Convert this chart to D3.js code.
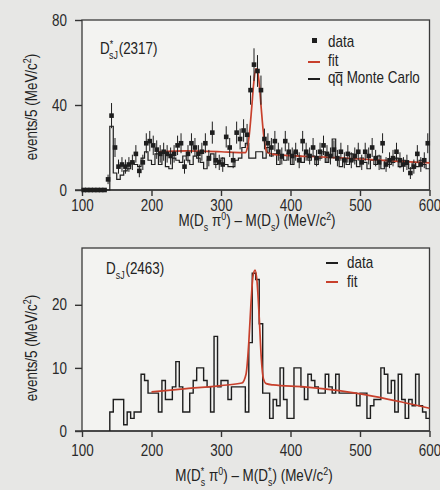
<!DOCTYPE html>
<html>
<head>
<meta charset="utf-8">
<script src="https://cdn.jsdelivr.net/npm/d3@7"></script>
<style>
    body { margin: 0; background: #e7e7e5; }
    svg { display: block; font-family: "Liberation Sans", Arial, sans-serif; }
    .tick text { font-size: 16px; fill: #2a2a2a; }
    .tick line { stroke: #333; stroke-width: 1.4; }
</style>
</head>
<body>
<div id="chart"></div>
<script>
// top panel: D*sJ(2317), 5 MeV bins from 100 to 600
const topBinStarts = d3.range(100, 600, 5);
const topData = [
    0, 0, 0, 0, 0, 0, 0,
    5, 35, 20,
    11, 12, 11, 12, 13, 17, 9, 13, 22, 23,
    21, 19, 17, 18, 17, 16, 17, 21, 22, 11,
    17, 22, 20, 17, 18, 22, 15, 27, 14, 13,
    12, 25, 20, 14, 27, 24, 28, 26, 47, 59,
    56, 47, 24, 22, 20, 23, 18, 16, 23, 18,
    16, 18, 14, 23, 18, 16, 20, 15, 18, 21,
    17, 16, 19, 15, 18, 14, 17, 14, 16, 18,
    13, 18, 16, 20, 15, 13, 22, 12, 14, 15,
    18, 14, 12, 13, 8, 11, 17, 12, 14, 22
];
const topMonteCarlo = [
    0, 0, 0, 0, 0, 0, 0, 0,
    30, 8, 5, 7, 9, 10, 13, 12, 11, 15,
    18, 14, 12, 17, 12, 18, 11, 10, 15, 14,
    13, 16, 14, 12, 16, 15, 13, 10, 14, 17,
    12, 14, 15, 12, 11, 11, 14, 15, 20, 22,
    15, 15, 18, 18, 15, 20, 16, 17, 12, 15,
    14, 17, 12, 18, 16, 13, 17, 14, 16, 12,
    15, 18, 13, 16, 24, 14, 11, 15, 12, 17,
    14, 11, 15, 13, 10, 14, 12, 16, 10, 14,
    12, 13, 15, 11, 14, 12, 10, 13, 11, 14,
    12, 10
];
const topFitX = [210, 250, 300, 330, 335, 338, 341, 344, 347, 350, 352, 355, 358, 361, 364, 367, 375, 400, 450, 500, 550, 600];
const topFitY = [18, 18.4, 18, 17.6, 17.6, 20, 27, 38, 50, 57, 57, 50, 38, 27, 20, 17.6, 16.8, 16.2, 15.5, 14.6, 13.6, 12.8];

// bottom panel: DsJ(2463), 5 MeV bins from 140 to 600
const bottomBinStarts = d3.range(140, 600, 5);
const bottomData = [
    3, 5, 5, 5, 1, 3, 2, 3, 3, 9,
    8, 6, 6, 6, 3, 8, 5, 5, 7, 11,
    7, 3, 3, 6, 8, 10, 10, 8, 7, 3,
    15, 7, 8, 8, 5, 7, 7, 7, 7, 3,
    14, 25, 24, 17, 6, 6, 2, 5, 4, 10,
    5, 2, 2, 10, 10, 7, 5, 9, 8, 7,
    6, 6, 9, 7, 6, 9, 6, 6, 6, 6,
    6, 4, 6, 6, 2, 4, 5, 5, 10, 9,
    6, 8, 3, 9, 5, 2, 5, 4, 9, 4,
    3, 2
];
const bottomFitX = [200, 250, 300, 330, 336, 340, 343, 346, 349, 352, 355, 358, 361, 365, 375, 420, 470, 520, 560, 600];
const bottomFitY = [6.2, 6.7, 7.2, 7.6, 9, 14, 20, 24.5, 25.5, 23.5, 18, 11.5, 8.3, 7.5, 7.3, 7.0, 6.4, 5.5, 4.6, 3.6];

const xTicks = [100, 200, 300, 400, 500, 600];
const topYTicks = [0, 40, 80];
const bottomYTicks = [0, 10, 20];

const width = 440;
const height = 490;
const red = '#c8402c';
const ink = '#1e1e1e';
const squeeze = 0.84; // the original uses a condensed face

const svg = d3.select('#chart')
    .append('svg')
        .attr('width', width)
        .attr('height', height);

const x = d3.scaleLinear()
    .domain([100, 600])
    .range([82, 429.5]);

const yTop = d3.scaleLinear()
    .domain([0, 80])
    .range([190, 20]);

const yBottom = d3.scaleLinear()
    .domain([0, 29])
    .range([431, 248]);

// text with sub/superscripts, parts are [text, level, dx]
function richText(parent, px, py, parts, size, anchor) {
    const t = parent.append('g')
        .attr('transform', `translate(${px},${py}) scale(${squeeze},1)`)
        .append('text')
            .attr('font-size', size)
            .attr('fill', '#222')
            .attr('text-anchor', anchor || 'start');
    let off = 0;
    parts.forEach(p => {
        const lvl = p[1] || 0;
        const target = lvl === 1 ? -0.38 * size : lvl === -1 ? 0.3 * size : 0;
        t.append('tspan')
            .attr('dy', target - off)
            .attr('dx', p[2] || 0)
            .attr('font-size', lvl ? size * 0.66 : size)
            .text(p[0]);
        off = target;
    });
    return t;
}

function drawFrame(y, yTicks, pad) {
    const [y0, y1] = y.range();
    svg.append('rect')
        .attr('x', x(100))
        .attr('y', y1)
        .attr('width', x(600) - x(100))
        .attr('height', y0 - y1)
        .attr('fill', '#f3f3f1')
        .attr('stroke', '#3a3a3a')
        .attr('stroke-width', 1.3);

    svg.append('g')
        .attr('transform', `translate(0,${y0})`)
        .call(d3.axisBottom(x).tickValues(xTicks).tickSize(6).tickPadding(pad))
        .call(g => g.select('.domain').remove())
        .call(g => g.selectAll('text').attr('transform', `scale(${squeeze},1)`));

    svg.append('g')
        .attr('transform', `translate(${x(100)},0)`)
        .call(d3.axisLeft(y).tickValues(yTicks).tickSize(7))
        .call(g => g.select('.domain').remove())
        .call(g => g.selectAll('text')
            .attr('x', -15 / squeeze)
            .attr('transform', `scale(${squeeze},1)`));

    // bottom axis line runs a bit left of the frame
    svg.append('line')
        .attr('x1', x(100) - 7)
        .attr('x2', x(600))
        .attr('y1', y0)
        .attr('y2', y0)
        .attr('stroke', '#3a3a3a')
        .attr('stroke-width', 1.6);
}

drawFrame(yTop, topYTicks, 4);
drawFrame(yBottom, bottomYTicks, 8);

// ---- top panel ----
const stepTop = d3.line()
    .x(d => x(d[0]))
    .y(d => yTop(d[1]))
    .curve(d3.curveStepAfter);

const mcPoints = topBinStarts.map((b, i) => [b, topMonteCarlo[i]]);
mcPoints.push([600, topMonteCarlo[topMonteCarlo.length - 1]]);

svg.append('path')
    .attr('d', stepTop(mcPoints))
    .attr('fill', 'none')
    .attr('stroke', ink)
    .attr('stroke-width', 1.2);

const fitTop = d3.line()
    .x((d, i) => x(topFitX[i]))
    .y(d => yTop(d))
    .curve(d3.curveMonotoneX);

svg.append('path')
    .attr('d', fitTop(topFitY))
    .attr('fill', 'none')
    .attr('stroke', red)
    .attr('stroke-width', 1.7);

const points = svg.append('g');
points.selectAll('line')
    .data(topData)
    .join('line')
        .attr('x1', (d, i) => x(topBinStarts[i] + 2.5))
        .attr('x2', (d, i) => x(topBinStarts[i] + 2.5))
        .attr('y1', d => yTop(d + Math.sqrt(d)))
        .attr('y2', d => yTop(Math.max(0, d - Math.sqrt(d))))
        .attr('stroke', ink)
        .attr('stroke-width', 1);

points.selectAll('rect')
    .data(topData)
    .join('rect')
        .attr('x', (d, i) => x(topBinStarts[i] + 2.5) - 2.3)
        .attr('y', d => yTop(d) - 2.3)
        .attr('width', 4.6)
        .attr('height', 4.6)
        .attr('fill', ink);

// legend
svg.append('rect').attr('x', 312).attr('y', 38).attr('width', 5).attr('height', 5).attr('fill', ink);
richText(svg, 328, 47, [['data']], 16);
svg.append('line').attr('x1', 308).attr('x2', 320).attr('y1', 62).attr('y2', 62).attr('stroke', red).attr('stroke-width', 2);
richText(svg, 328, 66, [['fit']], 16);
svg.append('line').attr('x1', 308).attr('x2', 320).attr('y1', 79).attr('y2', 79).attr('stroke', ink).attr('stroke-width', 2);
richText(svg, 328, 83, [['q'], ['q\u0305'], [' Monte Carlo']], 16);

richText(svg, 100, 54, [['D'], ['*', 1], ['sJ', -1, -5], ['(2317)', 0, 1]], 16);

// ---- bottom panel ----
const stepBottom = d3.line()
    .x(d => x(d[0]))
    .y(d => yBottom(d[1]))
    .curve(d3.curveStepAfter);

const histPoints = [[140, 0]].concat(bottomBinStarts.map((b, i) => [b, bottomData[i]]));
histPoints.push([600, bottomData[bottomData.length - 1]]);

svg.append('path')
    .attr('d', stepBottom(histPoints))
    .attr('fill', 'none')
    .attr('stroke', ink)
    .attr('stroke-width', 1.4);

const fitBottom = d3.line()
    .x((d, i) => x(bottomFitX[i]))
    .y(d => yBottom(d))
    .curve(d3.curveMonotoneX);

svg.append('path')
    .attr('d', fitBottom(bottomFitY))
    .attr('fill', 'none')
    .attr('stroke', red)
    .attr('stroke-width', 1.7);

svg.append('line').attr('x1', 326).attr('x2', 338).attr('y1', 263).attr('y2', 263).attr('stroke', ink).attr('stroke-width', 2);
richText(svg, 347, 268, [['data']], 16);
svg.append('line').attr('x1', 326).attr('x2', 338).attr('y1', 282).attr('y2', 282).attr('stroke', red).attr('stroke-width', 2);
richText(svg, 347, 287, [['fit']], 16);

richText(svg, 106, 274, [['D'], ['sJ', -1], ['(2463)', 0, 1]], 16);

// ---- axis titles ----
richText(svg, 257, 226, [['M(D'], ['s', -1], [' \u03c0'], ['0', 1], [') \u2013 M(D'], ['s', -1], [') (MeV/c'], ['2', 1], [')']], 16, 'middle');
richText(svg, 254, 481, [['M(D'], ['*', 1], ['s', -1, -4], [' \u03c0'], ['0', 1], [') \u2013 M(D'], ['*', 1], ['s', -1, -4], [') (MeV/c'], ['2', 1], [')']], 16, 'middle');

[[yTop, 107], [yBottom, 348]].forEach(([y, cy]) => {
    const g = svg.append('g').attr('transform', `translate(37,${cy}) rotate(-90)`);
    richText(g, 0, 0, [['events/5 (MeV/c'], ['2', 1], [')']], 16, 'middle');
});
</script>
</body>
</html>
